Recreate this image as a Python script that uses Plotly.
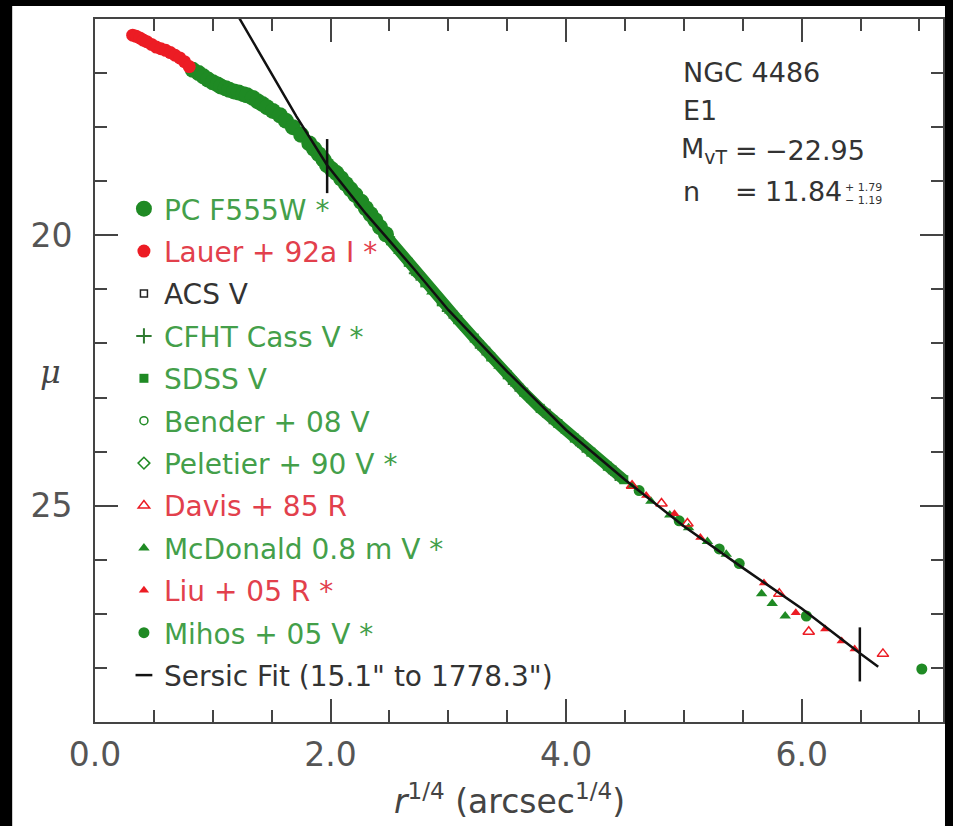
import plotly.graph_objects as go

# ---------------- data ----------------
lauer_r = [0.32, 0.35, 0.38, 0.41, 0.44, 0.48, 0.52, 0.56, 0.60, 0.64, 0.68, 0.72, 0.76, 0.80]
lauer_mu = [16.30, 16.32, 16.35, 16.39, 16.42, 16.47, 16.52, 16.55, 16.58, 16.62, 16.67, 16.72, 16.79, 16.88]

pc_r = [0.83, 0.88, 0.92, 0.96, 1.00, 1.04, 1.07, 1.11, 1.14, 1.18, 1.22, 1.26, 1.29, 1.34,
        1.38, 1.42, 1.46, 1.51, 1.57, 1.62, 1.68, 1.75, 1.82, 1.86, 1.90, 1.94, 1.97,
        2.01, 2.05, 2.09, 2.13, 2.17, 2.21, 2.26, 2.30, 2.34, 2.38, 2.42, 2.47]
pc_mu = [16.94, 17.00, 17.06, 17.12, 17.17, 17.21, 17.25, 17.28, 17.31, 17.34, 17.36, 17.39, 17.41, 17.46,
         17.52, 17.57, 17.63, 17.70, 17.78, 17.88, 18.00, 18.14, 18.30, 18.40, 18.50, 18.60, 18.70,
         18.78, 18.85, 18.95, 19.05, 19.15, 19.25, 19.38, 19.50, 19.61, 19.72, 19.85, 19.98]

acs_r = [1.14, 1.46, 1.82, 2.13]
acs_mu = [17.31, 17.63, 18.30, 19.05]

bender_r = [1.29, 1.68, 2.05, 2.44]
bender_mu = [17.41, 18.00, 18.85, 19.90]

peletier_r = [1.57, 1.97, 2.30, 2.73]
peletier_mu = [17.78, 18.70, 19.50, 20.70]

sdss_r = [2.05, 2.21, 2.38, 2.51, 2.66, 2.80, 2.94, 3.08, 3.22, 3.36, 3.50,
          3.64, 3.78, 3.93, 4.07, 4.21, 4.35, 4.49]
sdss_mu = [18.85, 19.25, 19.72, 20.10, 20.50, 20.88, 21.23, 21.56, 21.90, 22.25, 22.58,
           22.90, 23.20, 23.48, 23.75, 24.01, 24.27, 24.52]

cfht_r = [2.13, 2.44, 2.73, 3.01, 3.29, 3.57, 3.86, 4.14, 4.42]
cfht_mu = [19.05, 19.90, 20.70, 21.40, 22.08, 22.75, 23.35, 23.88, 24.40]

mcd_r = [2.13, 2.30, 2.44, 2.58, 2.73, 2.86, 3.01, 3.15, 3.29, 3.43, 3.57, 3.71,
         3.86, 4.00, 4.14, 4.28, 4.42, 4.56, 4.72, 4.88, 5.04, 5.20, 5.36,
         5.66, 5.75, 5.86]
mcd_mu = [19.05, 19.50, 19.90, 20.30, 20.70, 21.05, 21.40, 21.72, 22.08, 22.42, 22.75, 23.05,
          23.35, 23.62, 23.88, 24.14, 24.40, 24.63, 24.92, 25.17, 25.41, 25.66, 25.90,
          26.63, 26.81, 27.04]

mihos_r = [4.62, 4.96, 5.30, 5.47, 6.04, 7.02]
mihos_mu = [24.72, 25.28, 25.80, 26.07, 27.04, 28.02]

liu_r = [4.68, 4.92, 5.14, 5.68, 5.95, 6.20, 6.34, 6.45]
liu_mu = [24.81, 25.15, 25.59, 26.43, 26.98, 27.28, 27.50, 27.65]

davis_r = [4.56, 4.81, 5.03, 5.81, 6.06, 6.69]
davis_mu = [24.63, 24.96, 25.33, 26.63, 27.33, 27.74]

fit_r = [1.20, 1.45, 1.71, 1.97, 2.30, 2.70, 3.00, 3.50, 4.00, 4.50, 5.00, 5.50, 6.00, 6.50, 6.65]
fit_mu = [15.89, 16.84, 17.80, 18.70, 19.60, 20.60, 21.38, 22.52, 23.60, 24.52, 25.38, 26.15, 26.90, 27.74, 27.98]

# fit-range limits (15.1" and 1778.3") and the fit value there
limit_r = [1.971, 6.494]
limit_mu = [18.72, 27.75]
limit_half = 0.5

x_ticks = [0.0, 2.0, 4.0, 6.0]
x_ticklabels = ["0.0", "2.0", "4.0", "6.0"]
y_ticks = [20, 25]
y_ticklabels = ["20", "25"]

GREEN = "#1f8a24"
GREEN_TXT = "#449f4a"
RED = "#ec1c24"
RED_TXT = "#e2404c"
BLACK_TXT = "#333333"


def lab(text, color):
    return '<span style="color:%s">%s</span>' % (color, text)


fig = go.Figure()

def add(x, y, name, rank, symbol, color, size, mode="markers", lw=0, lcolor=None, show=True):
    fig.add_trace(go.Scatter(
        x=x, y=y, mode=mode, name=name, legendrank=rank, legendgroup=str(rank),
        showlegend=show,
        marker=dict(symbol=symbol, color=color, size=size,
                    line=dict(width=lw, color=lcolor or color)),
        hoverinfo="skip"))

# hidden / underlying series first
add(acs_r, acs_mu, lab("ACS V", BLACK_TXT), 3, "square-open", "#222222", 7, lw=1.5)
add(bender_r, bender_mu, lab("Bender + 08 V", GREEN_TXT), 6, "circle-open", GREEN, 8, lw=1.5)
add(peletier_r, peletier_mu, lab("Peletier + 90 V *", GREEN_TXT), 7, "diamond-open", GREEN, 9, lw=1.5)

# band under SDSS points
fig.add_trace(go.Scatter(x=sdss_r, y=sdss_mu, mode="lines", showlegend=False,
                         line=dict(color=GREEN, width=11), hoverinfo="skip"))
add(sdss_r, sdss_mu, lab("SDSS V", GREEN_TXT), 5, "square", GREEN, 9)
add(cfht_r, cfht_mu, lab("CFHT Cass V *", GREEN_TXT), 4, "cross-thin-open", "#2e7a30", 11, lw=2)
add(pc_r, pc_mu, lab("PC F555W *", GREEN_TXT), 1, "circle", GREEN, 16)
add(mcd_r, mcd_mu, lab("McDonald 0.8 m V *", GREEN_TXT), 9, "triangle-up", GREEN, 10)
add(mihos_r, mihos_mu, lab("Mihos + 05 V *", GREEN_TXT), 11, "circle", GREEN, 11)
add(lauer_r, lauer_mu, lab("Lauer + 92a I *", RED_TXT), 2, "circle", RED, 13)
add(davis_r, davis_mu, lab("Davis + 85 R", RED_TXT), 8, "triangle-up-open", RED, 10, lw=1.5)
add(liu_r, liu_mu, lab("Liu + 05 R *", RED_TXT), 10, "triangle-up", RED, 9)

# Sersic fit line
fig.add_trace(go.Scatter(x=fit_r, y=fit_mu, mode="lines", showlegend=False,
                         line=dict(color="#111111", width=2.5), hoverinfo="skip"))
for r, m in zip(limit_r, limit_mu):
    fig.add_trace(go.Scatter(x=[r, r], y=[m - limit_half, m + limit_half], mode="lines",
                             showlegend=False, line=dict(color="#111111", width=2.5),
                             hoverinfo="skip"))
# legend entry for the fit
fig.add_trace(go.Scatter(x=[None], y=[None], mode="markers",
                         name=lab('Sersic Fit (15.1" to 1778.3")', BLACK_TXT),
                         legendrank=12, legendgroup="12",
                         marker=dict(symbol="line-ew-open", size=12, color="#111111",
                                     line=dict(width=2.5, color="#111111"))))

axis_common = dict(
    showline=True, linewidth=2, linecolor="#444444", mirror="ticks",
    ticks="inside", ticklen=23, tickwidth=2, tickcolor="#444444",
    showgrid=False, zeroline=False,
    tickfont=dict(size=33, color="#555555", family="DejaVu Sans"),
)

fig.update_xaxes(range=[0, 7.2], tickvals=x_ticks, ticktext=x_ticklabels,
                 minor=dict(dtick=0.5, tick0=0, ticks="inside", ticklen=12,
                            tickwidth=1.5, tickcolor="#444444"),
                 ticklabelstandoff=2,
                 **axis_common)
fig.update_yaxes(range=[29, 16], tickvals=y_ticks, ticktext=y_ticklabels,
                 minor=dict(dtick=1, tick0=0, ticks="inside", ticklen=12,
                            tickwidth=1.5, tickcolor="#444444"),
                 ticklabelstandoff=14,
                 **axis_common)

ann = []
def txt(px, py, s, size=27, color="#333333", anchor="left", family="DejaVu Sans"):
    ann.append(dict(x=(px - 95) / 850, y=(722 - py) / 703, xref="paper", yref="paper",
                    text=s, showarrow=False, xanchor=anchor, yanchor="middle",
                    font=dict(size=size, color=color, family=family)))

txt(682, 72, "NGC 4486")
txt(682, 110, "E1")
txt(680, 150, "M<sub>vT</sub>")
txt(735, 150, "=")
txt(765, 150, "\u221222.95")
txt(682, 192, "n")
txt(735, 192, "=")
txt(765, 192, "11.84")
txt(845, 187, "+\u00a01.79", size=11)
txt(845, 200, "\u2212\u00a01.19", size=11)
# axis titles
txt(510, 800, "<i>r</i><sup>1/4</sup> (arcsec<sup>1/4</sup>)", size=33, color="#444444", anchor="center")
txt(50, 372, "<i>\u03bc</i>", size=32, color="#444444", anchor="center", family="DejaVu Serif")

fig.update_layout(
    width=953, height=826,
    margin=dict(l=95, r=8, t=19, b=104),
    paper_bgcolor="black", plot_bgcolor="white",
    font=dict(family="DejaVu Sans", color="#444444"),
    showlegend=True,
    legend=dict(x=(124 - 95) / 850, y=(722 - 184) / 703, xanchor="left", yanchor="top",
                bgcolor="rgba(0,0,0,0)", font=dict(size=28, family="DejaVu Sans"),
                tracegroupgap=3, itemsizing="trace"),
    shapes=[dict(type="rect", xref="paper", yref="paper", layer="below",
                 x0=(12 - 95) / 850, x1=(947 - 95) / 850,
                 y0=-0.3, y1=(722 - 6) / 703,
                 fillcolor="white", line=dict(width=0))],
    annotations=ann,
)

fig.write_html("out.html",
               config={"displayModeBar": False},
               post_script="document.body.style.margin='0';document.body.style.background='#000';")
